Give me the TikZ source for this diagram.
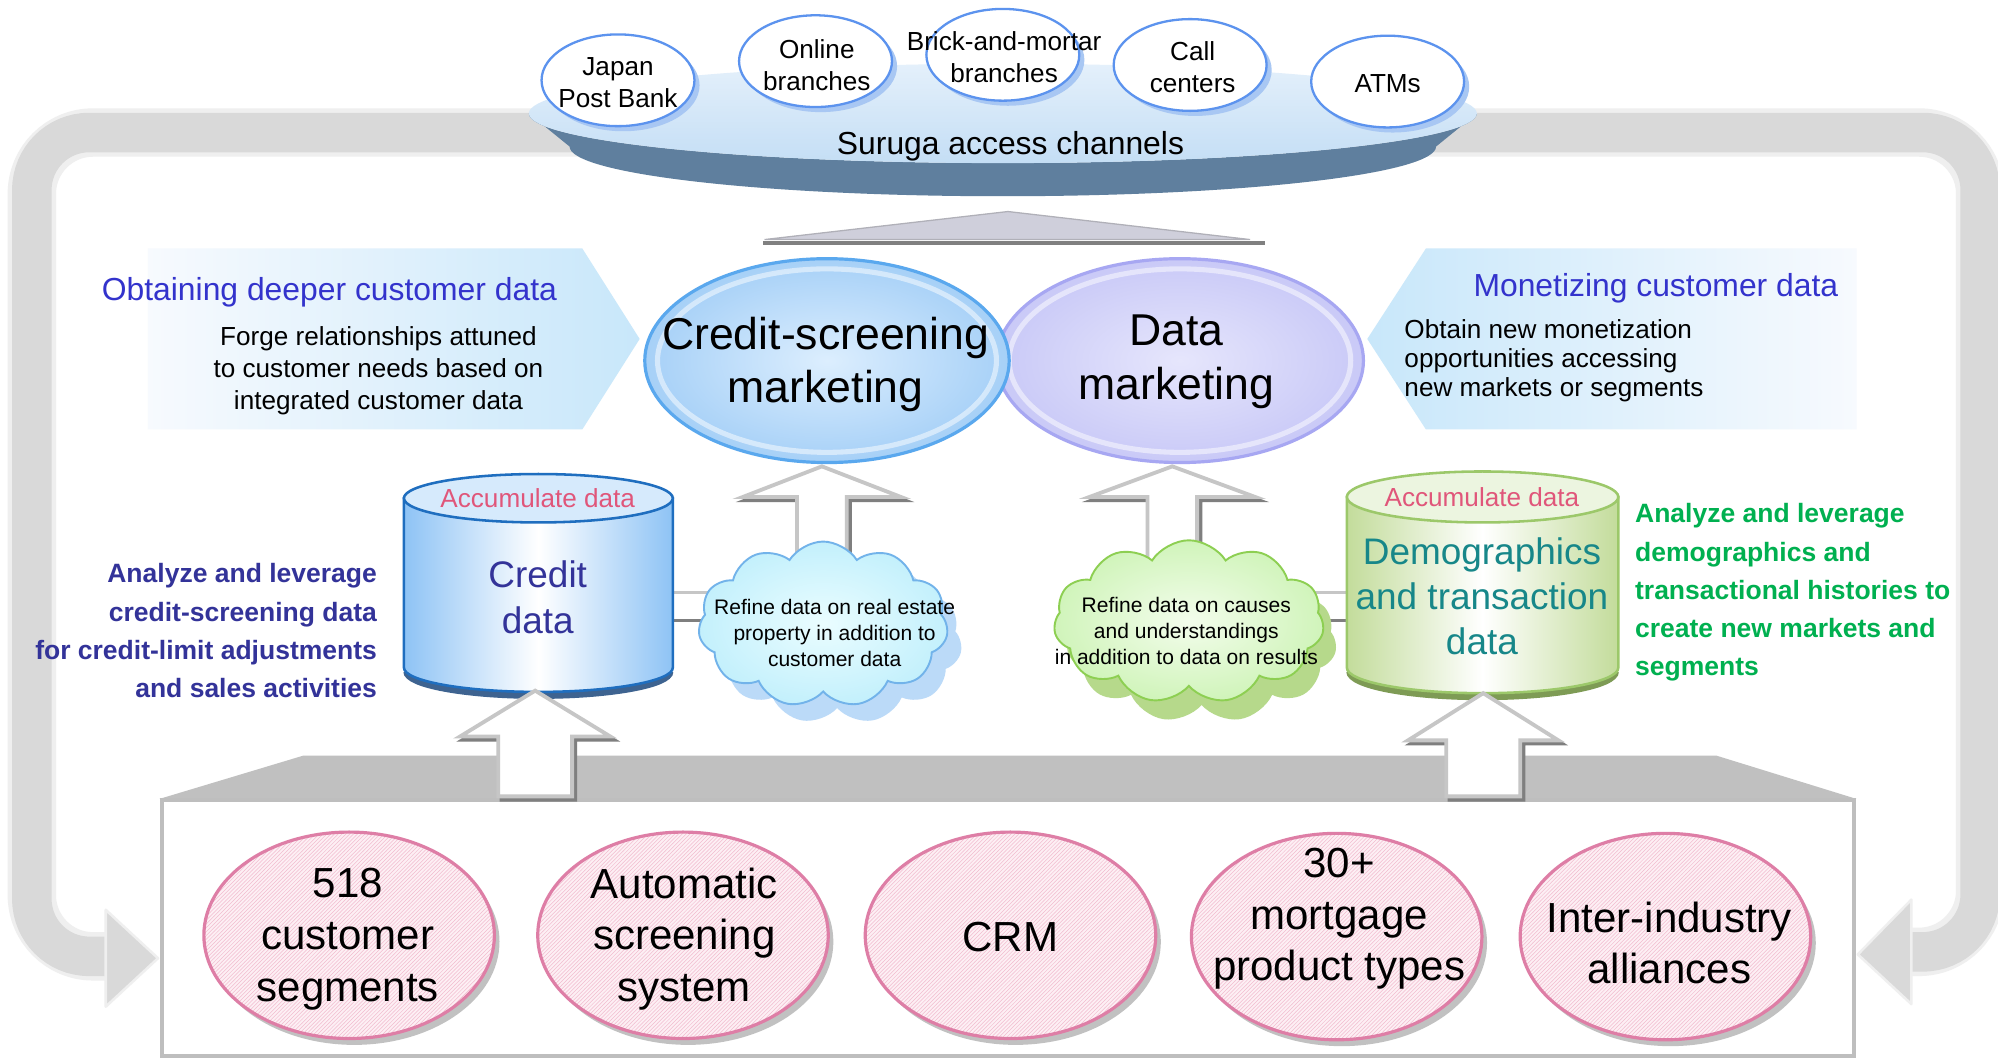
\documentclass[tikz,border=0pt]{standalone}
\usepackage{fontspec}
\setmainfont{Liberation Sans}
\usetikzlibrary{shapes.geometric,shapes.symbols,shadows,patterns}
\newcommand{\fsz}[2]{\fontsize{#1}{#2}\selectfont}
\definecolor{cBand}{HTML}{D9D9D9}
\definecolor{cHalo}{HTML}{EFEFEF}
\definecolor{cDiscA}{HTML}{E4F0FB}
\definecolor{cDiscB}{HTML}{C4DEF5}
\definecolor{cDiscSide}{HTML}{5F7F9E}
\definecolor{cChanEdge}{HTML}{5C93EE}
\definecolor{cChanShadow}{HTML}{A8C7F3}
\definecolor{cTri}{HTML}{CFCFDB}
\definecolor{cTriEdge}{HTML}{B0B0B8}
\definecolor{cTriShadow}{HTML}{808080}
\definecolor{cCredA}{HTML}{DCEEFE}
\definecolor{cCredB}{HTML}{A6D0F7}
\definecolor{cCredEdge}{HTML}{5AA8EE}
\definecolor{cDataA}{HTML}{E6E6FC}
\definecolor{cDataB}{HTML}{C9C9F7}
\definecolor{cDataEdge}{HTML}{A7A7F2}
\definecolor{cChevDeep}{HTML}{C8E7FA}
\definecolor{cChevPale}{HTML}{F7FAFE}
\definecolor{cHead}{HTML}{3333CC}
\definecolor{cNavy}{HTML}{333399}
\definecolor{cGreenTxt}{HTML}{00B050}
\definecolor{cCylB}{HTML}{8EC3F5}
\definecolor{cCylBTop}{HTML}{D6EAFC}
\definecolor{cCylBEdge}{HTML}{1F6EBF}
\definecolor{cCylBShadow}{HTML}{3E6390}
\definecolor{cCylG}{HTML}{C3DC9B}
\definecolor{cCylGTop}{HTML}{ECF5E0}
\definecolor{cCylGEdge}{HTML}{9CC86A}
\definecolor{cCylGShadow}{HTML}{7E9B55}
\definecolor{cPinkTxt}{HTML}{E0567A}
\definecolor{cTeal}{HTML}{178789}
\definecolor{cCloudBIn}{HTML}{EAFDFF}
\definecolor{cCloudBOut}{HTML}{C3F0FC}
\definecolor{cCloudBEdge}{HTML}{72B3EA}
\definecolor{cCloudBShadow}{HTML}{BBDAF8}
\definecolor{cCloudGIn}{HTML}{F3FDEC}
\definecolor{cCloudGOut}{HTML}{D0F4BA}
\definecolor{cCloudGEdge}{HTML}{8DCF52}
\definecolor{cCloudGShadow}{HTML}{B6D98B}
\definecolor{cArrEdge}{HTML}{C6C6C6}
\definecolor{cArrShadow}{HTML}{7F7F7F}
\definecolor{cBoxTop}{HTML}{C0C0C0}
\definecolor{cBoxEdge}{HTML}{BEBEBE}
\definecolor{cPinkBg}{HTML}{FDEFF4}
\definecolor{cPinkLine}{HTML}{F2BCCF}
\definecolor{cPinkEdge}{HTML}{DE7EA6}
\newcommand{\blockup}[6]{%
  \begin{scope}[shift={(2.5,2.5)}]
    \draw[cArrShadow, line width=3pt] (#1,#2) -- ({#1+#3},#4) -- ({#1+#5},#4) -- ({#1+#5},#6) -- ({#1-#5},#6) -- ({#1-#5},#4) -- ({#1-#3},#4) -- cycle;
  \end{scope}
  \draw[cArrEdge, fill=white, line width=3pt] (#1,#2) -- ({#1+#3},#4) -- ({#1+#5},#4) -- ({#1+#5},#6) -- ({#1-#5},#6) -- ({#1-#5},#4) -- ({#1-#3},#4) -- cycle;}
\begin{document}
\begin{tikzpicture}[x=1pt,y=-1pt,
  chan/.style={ellipse, draw=cChanEdge, line width=1.8pt, fill=white, minimum width=120pt, minimum height=72pt, inner sep=0pt,
    drop shadow={shadow xshift=4pt, shadow yshift=-4pt, fill=cChanShadow, opacity=1}},
  chantxt/.style={font=\fsz{20.5}{25}, align=center, inner sep=0pt},
  bigtxt/.style={font=\fsz{35}{42}, align=center, inner sep=0pt},
  cloudtxt/.style={font=\fsz{16.5}{20.5}, align=center, inner sep=0pt},
  cyltxt/.style={font=\fsz{29}{35.5}, align=center, inner sep=0pt},
  acctxt/.style={font=\fsz{20.5}{25}, text=cPinkTxt, inner sep=0pt},
  pinkell/.style={ellipse, minimum width=228pt, minimum height=162pt, inner sep=0pt, draw=cPinkEdge, line width=2.5pt,
    drop shadow={shadow xshift=4pt, shadow yshift=-5pt, fill=black!40, opacity=0.6},
    preaction={fill=cPinkBg}, pattern=north east lines, pattern color=cPinkLine},
  pinktxt/.style={font=\fsz{33}{40.5}, align=center, inner sep=0pt},
  cloudshape/.style={cloud, cloud puffs=11, cloud puff arc=115, aspect=1.5, inner sep=0pt},
  bar/.style={line width=3pt}
]
\useasboundingbox (0,0) rectangle (1568,830);
\fill[white] (0,0) rectangle (1568,830);

% ---- feedback loop band
\draw[cHalo, line width=38pt, rounded corners=48pt] (85,750.5) -- (25,750.5) -- (25,104) -- (1554,104) -- (1554,747) -- (1500,747);
\draw[cBand, line width=31pt, rounded corners=45pt] (85,750.5) -- (25,750.5) -- (25,104) -- (1554,104) -- (1554,747) -- (1500,747);
\filldraw[fill=cBand, draw=cHalo, line width=2pt, line join=round] (83,714) -- (124,752) -- (83,790) -- cycle;
\filldraw[fill=cBand, draw=cHalo, line width=2pt, line join=round] (1500,706) -- (1458,749) -- (1500,788) -- cycle;

% ---- Suruga disc
\fill[cDiscSide] (415,89) -- (447,115) arc[start angle=180, end angle=360, x radius=340pt, y radius=39pt] -- (1159,89) arc[start angle=0, end angle=-180, x radius=372pt, y radius=39pt] -- cycle;
\shade[top color=cDiscA, bottom color=cDiscB] (787,89) ellipse[x radius=372pt, y radius=39pt];
\node[font=\fsz{25}{30}, inner sep=0pt] (suruga) at (793,115) {Suruga access channels};

% ---- channels
\node[chan] (jpb) at (485,63) {};
\node[chan] (onl) at (640,48) {};
\node[chan] (bam) at (787,43) {};
\node[chan] (call) at (934,51) {};
\node[chan] (atm) at (1089,64) {};
\node[chantxt] (tjpb) at (485,65) {Japan\\Post Bank};
\node[chantxt] (tonl) at (641,51) {Online\\branches};
\node[chantxt] (tbam) at (788,45) {Brick-and-mortar\\branches};
\node[chantxt] (tcall) at (936,53) {Call\\centers};
\node[chantxt] (tatm) at (1089,66) {ATMs};

% ---- triangle
\draw[cTriShadow, line width=3pt] (599,191) -- (993,191);
\filldraw[fill=cTri, draw=cTriEdge, line width=1pt] (600,188) -- (791,166) -- (981,188) -- cycle;

% ---- chevrons
\shade[left color=cChevPale, right color=cChevDeep] (116,195) -- (457,195) -- (502,266) -- (457,337) -- (116,337) -- cycle;
\shade[left color=cChevDeep, right color=cChevPale] (1073,266) -- (1119,195) -- (1457,195) -- (1457,337) -- (1119,337) -- cycle;
\node[font=\fsz{25}{30}, text=cHead, inner sep=0pt] (hl) at (258.5,229) {Obtaining deeper customer data};
\node[font=\fsz{20.5}{25}, align=center, inner sep=0pt] (pl) at (297,291) {Forge relationships attuned\\to customer needs based on\\integrated customer data};
\node[font=\fsz{25}{30}, text=cHead, inner sep=0pt] (hr) at (1299.5,226) {Monetizing customer data};
\node[font=\fsz{20.5}{23}, align=left, anchor=west, inner sep=0pt] (pr) at (1102,283) {Obtain new monetization\\opportunities accessing\\new markets or segments};

% ---- bottom box
\fill[cBoxTop] (125,627) -- (238,593) -- (1347,593) -- (1457,627) -- cycle;
\draw[cBoxEdge, line width=3pt, fill=white] (127,628) rectangle (1455,829);

% ---- connector bars between cylinders and clouds
\fill[white] (520,465) rectangle (580,487);
\draw[cArrEdge, bar] (520,465) -- (580,465);
\draw[cArrShadow, bar] (520,487) -- (580,487);
\fill[white] (1025,465) rectangle (1065,487);
\draw[cArrEdge, bar] (1025,465) -- (1065,465);
\draw[cArrShadow, bar] (1025,487) -- (1065,487);

% ---- upward arrows into the marketing ellipses
\blockup{645}{366}{62}{390}{19.5}{460}
\blockup{920}{366}{65}{390}{19.5}{460}

% ---- clouds
\node[cloudshape, minimum width=196pt, minimum height=130pt, fill=cCloudBShadow] (ccs) at (657,503) {};
\node[cloudshape, minimum width=196pt, minimum height=130pt, draw=cCloudBEdge, line width=1.5pt, inner color=cCloudBIn, outer color=cCloudBOut] (cc) at (646,490) {};
\node[cloudtxt] (tcc) at (655,497) {Refine data on real estate\\property in addition to\\customer data};
\node[cloudshape, minimum width=212pt, minimum height=128pt, fill=cCloudGShadow] (cds) at (943,503) {};
\node[cloudshape, minimum width=212pt, minimum height=128pt, draw=cCloudGEdge, line width=1.5pt, inner color=cCloudGIn, outer color=cCloudGOut] (cd) at (933,488) {};
\node[cloudtxt] (tcd) at (931,495) {Refine data on causes\\and understandings\\in addition to data on results};

% ---- marketing ellipses
\node[ellipse, minimum width=288pt, minimum height=160pt, draw=cDataEdge, line width=2.5pt, inner color=cDataA, outer color=cDataB] (dm) at (926,283) {};
\draw[white, opacity=0.5, line width=4pt] (dm.center) ellipse[x radius=134pt, y radius=72pt];
\node[ellipse, minimum width=286pt, minimum height=160pt, draw=cCredEdge, line width=2.5pt, inner color=cCredA, outer color=cCredB] (cs) at (649,283) {};
\draw[white, opacity=0.5, line width=4pt] (cs.center) ellipse[x radius=133pt, y radius=72pt];
\node[bigtxt] (tcs) at (648,286) {Credit-screening\\marketing};
\node[bigtxt] (tdm) at (923,284) {Data\\marketing};

% ---- credit cylinder
\draw[cCylBShadow, line width=5pt] (319,527) arc[start angle=180, end angle=360, x radius=103.5pt, y radius=19pt];
\path[draw=cCylBEdge, line width=2pt, left color=cCylB, right color=cCylB, middle color=white] (317,391) -- (317,524) arc[start angle=180, end angle=360, x radius=105.5pt, y radius=19pt] -- (528,391) -- cycle;
\draw[draw=cCylBEdge, line width=2pt, fill=cCylBTop] (422.5,391) ellipse[x radius=105.5pt, y radius=19pt];
\node[acctxt] (acc1) at (422,391) {Accumulate data};
\node[cyltxt, font=\fsz{29}{36}, text=cNavy] (tcred) at (422,469) {Credit\\data};

% ---- demographics cylinder
\draw[cCylGShadow, line width=5pt] (1059,527) arc[start angle=180, end angle=360, x radius=104.5pt, y radius=20pt];
\path[draw=cCylGEdge, line width=2pt, left color=cCylG, right color=cCylG, middle color=white] (1057,390) -- (1057,524) arc[start angle=180, end angle=360, x radius=106.5pt, y radius=20pt] -- (1270,390) -- cycle;
\draw[draw=cCylGEdge, line width=2pt, fill=cCylGTop] (1163.5,390) ellipse[x radius=106.5pt, y radius=20pt];
\node[acctxt] (acc2) at (1163,390) {Accumulate data};
\node[cyltxt, text=cTeal] (tdem) at (1163,468) {Demographics\\and transaction\\data};

% ---- upward arrows from the box
\blockup{420}{542}{59}{578}{29}{625}
\blockup{1164}{544}{59}{581}{29}{625}

% ---- side notes
\node[anchor=east, align=right, font=\fsz{20.8}{30}\bfseries, text=cNavy, inner sep=0pt] (lnote) at (296,495) {Analyze and leverage\\credit-screening data\\for credit-limit adjustments\\and sales activities};
\node[anchor=west, align=left, font=\fsz{20.8}{30}\bfseries, text=cGreenTxt, inner sep=0pt] (rnote) at (1283,465) {Analyze and leverage\\demographics and\\transactional histories to\\create new markets and\\segments};

% ---- pink foundations
\node[pinkell] (p1) at (274,734) {};
\node[pinkell] (p2) at (536,734) {};
\node[pinkell] (p3) at (793,734) {};
\node[pinkell] (p4) at (1049,735) {};
\node[pinkell] (p5) at (1307,735) {};
\node[pinktxt] (tp1) at (273,737) {518\\customer\\segments};
\node[pinktxt] (tp2) at (537,737) {Automatic\\screening\\system};
\node[pinktxt] (tp3) at (793,735) {CRM};
\node[pinktxt] (tp4) at (1051,721) {30+\\mortgage\\product types};
\node[pinktxt] (tp5) at (1310,740) {Inter-industry\\alliances};
\end{tikzpicture}
\end{document}
